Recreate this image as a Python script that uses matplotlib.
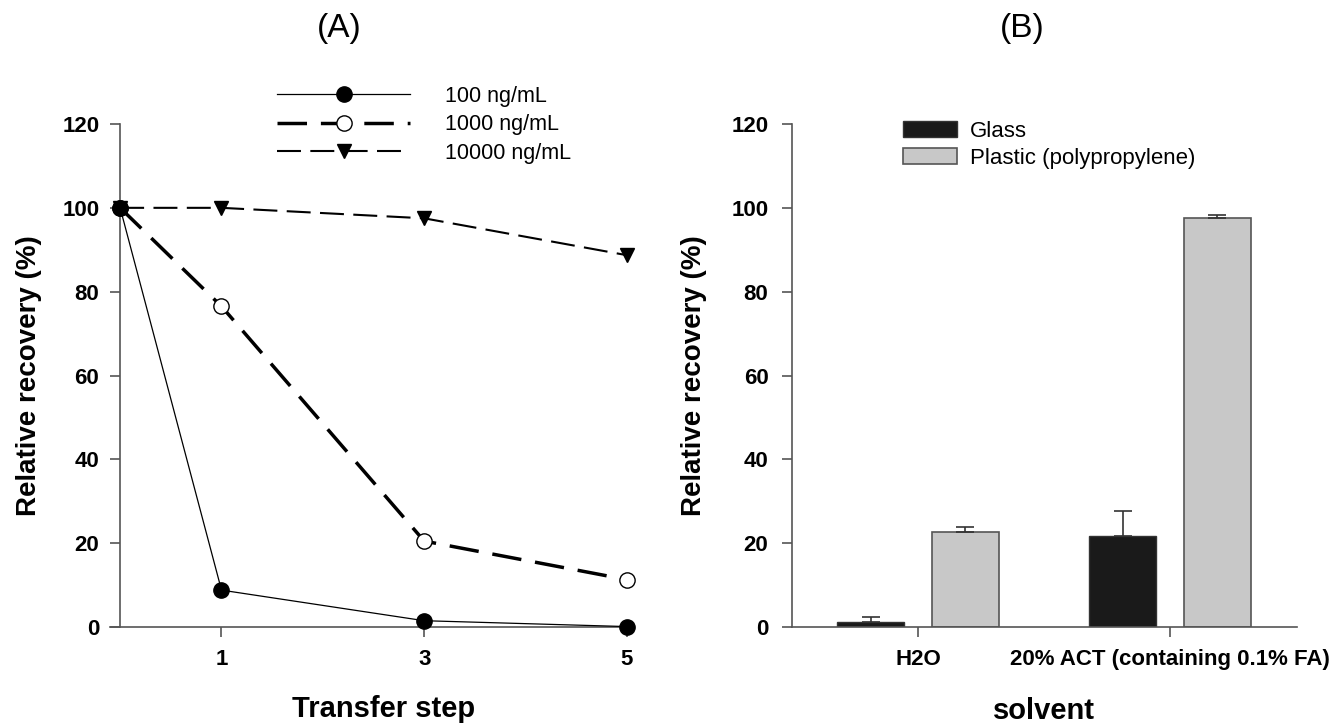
import numpy as np
import matplotlib.pyplot as plt

plt.rcParams['font.family'] = ['Liberation Sans', 'DejaVu Sans']

# Panel A data
steps = [0, 1, 3, 5]
rec_100 = [100, 8.8, 1.5, 0.1]
rec_1000 = [100, 76.5, 20.5, 11.3]
rec_10000 = [100, 100, 97.5, 88.7]

# Panel B data
solvents = ['H2O', '20% ACT (containing 0.1% FA)']
glass = [1.3, 21.7]
glass_err = [1.0, 6.0]
plastic = [22.6, 97.6]
plastic_err = [1.2, 0.6]

spine_col = '#555555'
W, H = 1343, 727

fig = plt.figure(figsize=(13.43, 7.27), dpi=100)

# ---- Panel A
ax1 = fig.add_axes([110/W, 1 - 627/H, 523/W, 503/H])
ax1.plot(steps, rec_100, '-', color='black', lw=0.9, marker='o', ms=11,
         mfc='black', mec='black', label='100 ng/mL', clip_on=False, zorder=5)
ax1.plot(steps, rec_1000, color='black', lw=2.5, dashes=(8.5, 4), marker='o', ms=11,
         mfc='white', mec='black', mew=1.0, label='1000 ng/mL', clip_on=False, zorder=4)
ax1.plot(steps, rec_10000, color='black', lw=1.5, dashes=(11.5, 4.5), marker='v', ms=10,
         mfc='black', mec='black', label='10000 ng/mL', clip_on=False, zorder=6)
ax1.set_xlim(-0.1, 5.06)
ax1.set_ylim(0, 120)
ax1.set_xticks([1, 3, 5])
ax1.set_yticks(np.arange(0, 121, 20))
ax1.spines['left'].set_position(('data', 0))
ax1.set_xlabel('Transfer step', fontsize=21, fontweight='bold')
ax1.xaxis.set_label_coords(0.524, -0.135)
ax1.set_ylabel('Relative recovery (%)', fontsize=20, fontweight='bold')
ax1.yaxis.set_label_coords(-0.13, 0.5)
ax1.legend(loc='upper left', bbox_to_anchor=(277/W, 1 - 86/H), bbox_transform=fig.transFigure,
           frameon=False, fontsize=15.5, handlelength=6.2, handletextpad=1.6,
           labelspacing=0.34, borderpad=0, borderaxespad=0)

# ---- Panel B
ax2 = fig.add_axes([792/W, 1 - 627/H, 505/W, 503/H])
pos = np.array([1, 2])
off = 0.188
w = 0.266
err_style = dict(ecolor='#333333', elinewidth=1.2, capsize=6.5, capthick=1.2)
ax2.bar(pos - off, glass, w, color='#1a1a1a', edgecolor='#333333', lw=1,
        yerr=[np.zeros(2), glass_err], error_kw=err_style, label='Glass')
ax2.bar(pos + off, plastic, w, color='#c8c8c8', edgecolor='#555555', lw=1.2,
        yerr=[np.zeros(2), plastic_err], error_kw=err_style, label='Plastic (polypropylene)')
ax2.set_xlim(0.5, 2.504)
ax2.set_ylim(0, 120)
ax2.set_xticks(pos)
ax2.set_xticklabels(solvents)
ax2.set_yticks(np.arange(0, 121, 20))
ax2.set_xlabel('solvent', fontsize=21, fontweight='bold')
ax2.xaxis.set_label_coords(0.499, -0.14)
ax2.set_ylabel('Relative recovery (%)', fontsize=20, fontweight='bold')
ax2.yaxis.set_label_coords(-0.168, 0.5)
ax2.legend(loc='upper left', bbox_to_anchor=(903/W, 1 - 121/H), bbox_transform=fig.transFigure,
           frameon=False, fontsize=16, handlelength=2.45, handleheight=0.72, handletextpad=0.55,
           labelspacing=0.25, borderpad=0, borderaxespad=0)

for ax, ypad in ((ax1, 8), (ax2, 10)):
    for s in ('top', 'right'):
        ax.spines[s].set_visible(False)
    for s in ('left', 'bottom'):
        ax.spines[s].set_color(spine_col)
        ax.spines[s].set_linewidth(1.2)
    ax.tick_params(axis='both', direction='out', length=7, width=1.2, color=spine_col,
                   labelsize=16)
    ax.tick_params(axis='x', pad=9)
    ax.tick_params(axis='y', pad=ypad)
    for lab in ax.get_xticklabels() + ax.get_yticklabels():
        lab.set_fontweight('bold')

fig.text(339/W, 1 - 29/H, '(A)', fontsize=24, ha='center', va='center')
fig.text(1022/W, 1 - 29/H, '(B)', fontsize=24, ha='center', va='center')

fig.savefig('out.png', dpi=100)
